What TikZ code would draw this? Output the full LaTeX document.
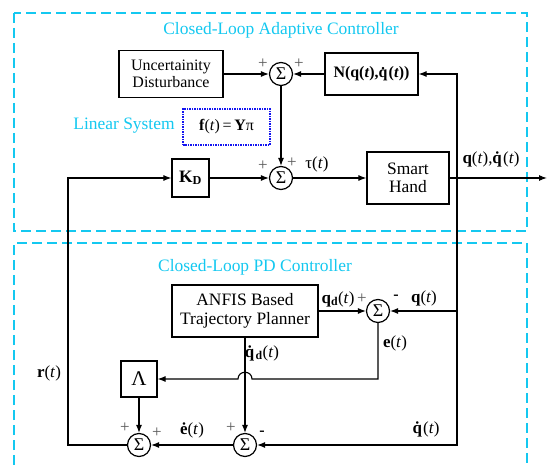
\documentclass[tikz,border=0pt]{standalone}
\usepackage{fontspec}
\setmainfont{Liberation Serif}
\usetikzlibrary{arrows.meta}
\definecolor{skyc}{RGB}{20,200,240}
\definecolor{dotblue}{RGB}{20,20,240}
\newcommand{\dotq}{\textbf{\.{q}}}
\begin{document}
\begin{tikzpicture}[x=1bp,y=-1bp,font=\fontsize{17.5}{18.5}\selectfont,
 blk/.style={draw, line width=1.2bp, inner sep=0pt, align=center},
 sumn/.style={draw, circle, line width=1.2bp, minimum size=23bp, inner sep=0pt, font=\fontsize{18}{18}\selectfont},
 arr/.style={line width=1.1bp, -{Latex[length=8bp,width=6bp]}},
 darr/.style={line width=1.1bp, {Latex[length=8bp,width=6bp]}-{Latex[length=8bp,width=6bp]}},
 lbl/.style={inner sep=0pt, font=\fontsize{17}{17}\selectfont},
 sgn/.style={inner sep=0pt, text=black!65, font=\fontsize{17}{17}\selectfont},
 msgn/.style={inner sep=0pt, font=\fontsize{16}{16}\selectfont\bfseries},
 zone/.style={draw=skyc, line width=2bp, dash pattern=on 10bp off 5bp},
 ztitle/.style={inner sep=0pt, text=skyc}]
\useasboundingbox (0,0) rectangle (551,465);
% zones
\draw[zone] (14,13) rectangle (527,231);
\draw[zone] (14,465) -- (14,243) -- (527,243) -- (527,465);
\node[ztitle] (t1) at (281,30) {Closed-Loop Adaptive Controller};
\node[ztitle] (t2) at (255,267) {Closed-Loop PD Controller};
\node[ztitle] (t3) at (124,126) {Linear System};
% blocks
\node[blk, minimum width=104bp, minimum height=47bp, font=\fontsize{16}{17}\selectfont] (unc) at (171,74) {Uncertainity\\Disturbance};
\node[blk, minimum width=93bp, minimum height=42bp, font=\fontsize{16}{17}\selectfont] (N) at (371.5,74) {\textbf{N(q(\textit{t}),\dotq(\textit{t}))}};
\node[draw=dotblue, line width=1.5bp, densely dotted, inner sep=0pt, minimum width=87bp, minimum height=36bp, font=\fontsize{16}{17}\selectfont] (lin) at (226.5,127) {\textbf{f}(\textit{t})\,=\,\textbf{Y}π};
\node[blk, minimum width=37bp, minimum height=38bp] (KD) at (190.5,178) {\textbf{K\textsubscript{D}}};
\node[blk, minimum width=82bp, minimum height=52bp] (SH) at (408,178) {Smart\\Hand};
\node[blk, minimum width=146bp, minimum height=52bp] (AN) at (245,311) {ANFIS Based\\Trajectory Planner};
\node[blk, minimum width=36bp, minimum height=36bp, font=\fontsize{21}{21}\selectfont] (Lam) at (139,379) {Λ};
% sums
\node[sumn] (s1) at (281,74) {Σ};
\node[sumn] (s2) at (281,178) {Σ};
\node[sumn] (s3) at (378,311) {Σ};
\node[sumn] (s4) at (139,445) {Σ};
\node[sumn] (s5) at (245,445) {Σ};
% coordinates
\coordinate (out) at (547,178);
\coordinate (fbB) at (457,445);
\coordinate (qbr) at (457,311);
\coordinate (lb) at (68,445);
\coordinate (lt) at (68,178);
\coordinate (ec) at (378,379);
\coordinate (bR) at (252,379);
\coordinate (bL) at (238,379);
% connectors
\draw[arr] (unc.east) -- (s1.west);
\draw[arr] (N.west) -- (s1.east);
\draw[arr] (s1.south) -- (s2.north);
\draw[arr] (KD.east) -- (s2.west);
\draw[arr] (s2.east) -- (SH.west);
\draw[arr] (SH.east) -- (out);
\draw[darr] (s5.east) -- (fbB) |- (N.east);
\draw[arr] (qbr) -- (s3.east);
\draw[arr] (AN.east) -- (s3.west);
\draw[arr] (s3.south) -- (ec) -- (bR) .. controls +(0,-9) and +(0,-9) .. (bL) -- (Lam.east);
\draw[arr] (AN.south) -- (s5.north);
\draw[arr] (Lam.south) -- (s4.north);
\draw[arr] (s5.west) -- (s4.east);
\draw[arr] (s4.west) -- (lb) -- (lt) -- (KD.west);
% signs
\node[sgn] (p1) at (263,64) {+};
\node[sgn] (p2) at (299,64) {+};
\node[sgn] (p3) at (263,166) {+};
\node[sgn] (p4) at (292,163) {+};
\node[sgn] (p5) at (362,299) {+};
\node[msgn] (m1) at (396,297) {-};
\node[sgn] (p6) at (125,428) {+};
\node[sgn] (p7) at (157,433) {+};
\node[sgn] (p8) at (231,428) {+};
\node[msgn] (m2) at (262,433) {-};
% labels
\node[lbl] (ltau) at (317,164) {τ(\textit{t})};
\node[lbl] (lout) at (491,159) {\textbf{q}(\textit{t}),\dotq(\textit{t})};
\node[lbl] (lqd) at (338,299) {\textbf{q}\textsubscript{\textbf{d}}(\textit{t})};
\node[lbl] (lq) at (424,298) {\textbf{q}(\textit{t})};
\node[lbl] (le) at (395,343) {\textbf{e}(\textit{t})};
\node[lbl] (lqdot) at (426,429) {\dotq(\textit{t})};
\node[lbl] (lqddot) at (262,353) {\dotq\textsubscript{\textbf{d}}(\textit{t})};
\node[lbl] (lr) at (49,373) {\textbf{r}(\textit{t})};
\node[lbl] (ledot) at (192,430) {\textbf{\.{e}}(\textit{t})};
\end{tikzpicture}
\end{document}
